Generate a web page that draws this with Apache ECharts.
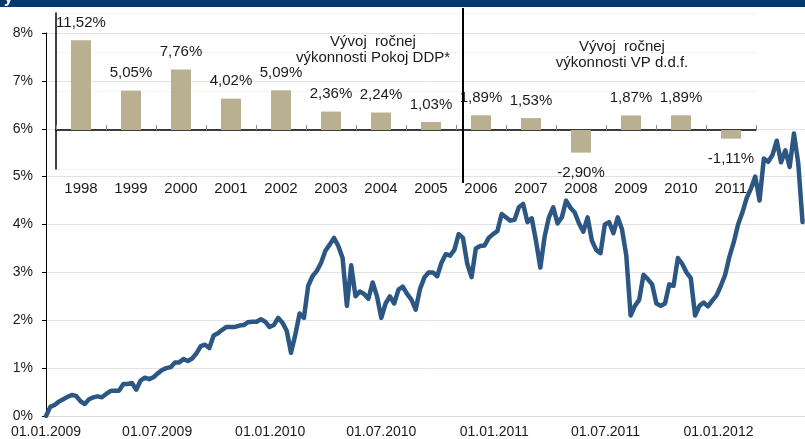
<!DOCTYPE html>
<html><head><meta charset="utf-8">
<script src="https://cdn.jsdelivr.net/npm/echarts@6/dist/echarts.min.js"></script>
<style>html,body{margin:0;padding:0;background:#fff}#c{width:805px;height:439px}</style>
</head><body><div id="c"></div>
<script>
// ---- data ----
const years = ['1998','1999','2000','2001','2002','2003','2004','2005','2006','2007','2008','2009','2010','2011'];
const yearReturns = [11.52, 5.05, 7.76, 4.02, 5.09, 2.36, 2.24, 1.03, 1.89, 1.53, -2.90, 1.87, 1.89, -1.11];
const lineStart = [2009, 0, 1];      // first weekly observation (UTC y, m, d)
const lineStepDays = 7;              // weekly observations
const lineValues = [
  0.00, 0.19, 0.23, 0.30, 0.35, 0.40, 0.44, 0.42, 0.31, 0.25,
  0.35, 0.39, 0.41, 0.39, 0.46, 0.52, 0.53, 0.53, 0.67, 0.67,
  0.69, 0.55, 0.74, 0.80, 0.77, 0.81, 0.89, 0.96, 1.00, 1.02,
  1.12, 1.12, 1.19, 1.15, 1.20, 1.31, 1.46, 1.49, 1.42, 1.68,
  1.73, 1.80, 1.86, 1.86, 1.86, 1.89, 1.90, 1.96, 1.97, 1.97,
  2.02, 1.97, 1.86, 1.90, 2.05, 1.95, 1.78, 1.32, 1.70, 2.14,
  2.05, 2.72, 2.92, 3.03, 3.20, 3.45, 3.58, 3.72, 3.55, 3.30,
  2.30, 3.15, 2.50, 2.60, 2.55, 2.45, 2.79, 2.50, 2.05, 2.35,
  2.50, 2.35, 2.64, 2.70, 2.55, 2.43, 2.22, 2.65, 2.89, 3.00,
  3.00, 2.92, 3.20, 3.38, 3.35, 3.47, 3.80, 3.72, 3.18, 2.90,
  3.50, 3.55, 3.56, 3.72, 3.80, 3.86, 4.22, 4.15, 4.08, 4.10,
  4.36, 4.43, 4.05, 4.13, 3.65, 3.10, 3.75, 4.15, 4.36, 4.02,
  4.15, 4.50, 4.35, 4.25, 4.02, 3.85, 4.15, 3.66, 3.47, 3.40,
  4.00, 4.05, 3.82, 4.15, 3.90, 3.35, 2.10, 2.30, 2.43, 2.95,
  2.86, 2.75, 2.35, 2.30, 2.35, 2.75, 2.72, 3.30, 3.18, 3.00,
  2.88, 2.10, 2.30, 2.37, 2.29, 2.41, 2.52, 2.72, 2.95, 3.33,
  3.63, 4.00, 4.25, 4.55, 4.75, 5.00, 4.50, 5.38, 5.31, 5.45,
  5.75, 5.30, 5.55, 5.20, 5.90, 5.28, 4.05
];
const dateTicks = ['2009-01-01','2009-07-01','2010-01-01','2010-07-01','2011-01-01','2011-07-01','2012-01-01'];
const dateRange = ['2009-01-01', '2012-05-21'];
const insetTitleLeft = 'Vývoj  ročnej\nvýkonnosti Pokoj DDP*';
const insetTitleRight = 'Vývoj  ročnej\nvýkonnosti VP d.d.f.';
const separatorAt = 8.14; // in category widths from the inset's left edge (between 2005 and 2006)

// ---- helpers ----
const FONT = '"Liberation Sans", Arial, sans-serif';
const TXT = '#1a1a1a';
function ts(s) { const p = s.split('-').map(Number); return Date.UTC(p[0], p[1]-1, p[2]); }
function pad(n) { return (n < 10 ? '0' : '') + n; }
function fmtDate(v) { const d = new Date(v); return pad(d.getUTCDate()) + '.' + pad(d.getUTCMonth()+1) + '.' + d.getUTCFullYear(); }
function fmtPct(v) { return v.toFixed(2).replace('.', ',') + '%'; }

const t0 = Date.UTC(lineStart[0], lineStart[1], lineStart[2]);
const lineData = lineValues.map((v, i) => [t0 + i * lineStepDays * 86400000, v]);
const tickTs = dateTicks.map(ts);

const barData = yearReturns.map(v => ({
  value: v,
  label: { position: v >= 0 ? 'top' : 'bottom', distance: v >= 0 ? 10 : 13 }
}));

const chart = echarts.init(document.getElementById('c'), null, { renderer: 'canvas' });
chart.setOption({
  animation: false,
  backgroundColor: '#ffffff',
  textStyle: { fontFamily: FONT },
  grid: [
    { left: 46, right: 0, top: 33, bottom: 22 },
    { left: 56, width: 700, top: 13, height: 156 },
    { left: 56, width: 700, top: 8, height: 175 }
  ],
  xAxis: [
    {
      type: 'value', gridIndex: 0, min: ts(dateRange[0]), max: ts(dateRange[1]),
      axisLine: { show: true, onZero: false, lineStyle: { color: '#d9d9d9', width: 1 } },
      axisTick: { show: false },
      splitLine: { show: false },
      axisLabel: {
        customValues: tickTs, formatter: fmtDate, color: TXT, fontSize: 14,
        fontFamily: FONT, margin: 9, hideOverlap: false
      }
    },
    {
      type: 'category', gridIndex: 1, data: years, position: 'top',
      axisLine: { show: true, onZero: true, lineStyle: { color: '#000', width: 1.5 } },
      axisTick: { show: true, length: 5, lineStyle: { color: '#8a8a8a' } },
      axisLabel: { show: false }, splitLine: { show: false }
    },
    {
      type: 'category', gridIndex: 1, data: years, position: 'bottom',
      axisLine: { show: false, onZero: false }, axisTick: { show: false },
      axisLabel: { color: TXT, fontSize: 15, fontFamily: FONT, margin: 12, interval: 0 },
      splitLine: { show: false }
    },
    { type: 'value', gridIndex: 2, min: 0, max: 14, show: false }
  ],
  yAxis: [
    {
      type: 'value', gridIndex: 0, min: 0, max: 8, interval: 1,
      axisLine: { show: true, lineStyle: { color: '#000', width: 1 } },
      axisTick: { show: true, length: 4, lineStyle: { color: '#000' } },
      splitLine: { show: true, lineStyle: { color: '#e2e2e2', width: 1 } },
      axisLabel: { formatter: '{value}%', color: TXT, fontSize: 14, fontFamily: FONT, margin: 13 }
    },
    {
      type: 'value', gridIndex: 1, min: -5, max: 15, interval: 5,
      axisLine: { show: true, onZero: false, lineStyle: { color: '#000', width: 1.5 } },
      axisTick: { show: false }, axisLabel: { show: false },
      splitLine: { show: true, lineStyle: { color: '#f6f4e4', width: 1 } }
    },
    { type: 'value', gridIndex: 2, min: 0, max: 1, show: false }
  ],
  graphic: [
    { type: 'rect', z: 100, shape: { x: 0, y: 0, width: 805, height: 7 }, style: { fill: '#033a6e' } },
    { type: 'text', z: 101, x: 4, y: 7, style: { text: 'y', fill: '#ffffff', font: 'bold 16px ' + FONT, textVerticalAlign: 'bottom' } },
    { type: 'text', z: 5, x: 373, y: 34, style: { text: insetTitleLeft, fill: TXT, font: '15px ' + FONT, textAlign: 'center', lineHeight: 16 } },
    { type: 'text', z: 5, x: 622, y: 39, style: { text: insetTitleRight, fill: TXT, font: '15px ' + FONT, textAlign: 'center', lineHeight: 16 } }
  ],
  series: [
    {
      type: 'bar', xAxisIndex: 1, yAxisIndex: 1, data: barData, barWidth: 20,
      itemStyle: { color: '#b9b092' },
      label: { show: true, formatter: p => fmtPct(p.value), color: TXT, fontSize: 15, fontFamily: FONT },
      z: 2
    },
    {
      type: 'line', xAxisIndex: 3, yAxisIndex: 2, data: [[separatorAt, 0], [separatorAt, 1]],
      symbol: 'none', lineStyle: { color: '#000', width: 2 }, z: 3, silent: true
    },
    {
      type: 'line', xAxisIndex: 0, yAxisIndex: 0, data: lineData, symbol: 'none',
      lineStyle: { color: '#2d5783', width: 4.5, join: 'round', cap: 'round' }, z: 10
    }
  ]
});
</script></body></html>
